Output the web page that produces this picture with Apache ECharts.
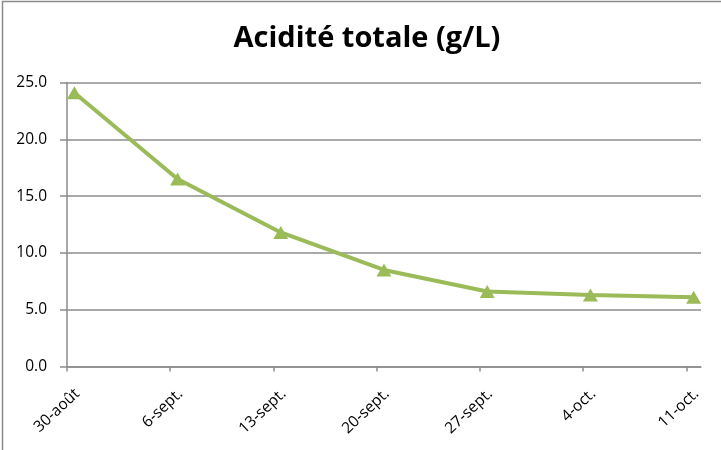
<!DOCTYPE html>
<html>
<head>
<meta charset="utf-8">
<title>Acidité totale (g/L)</title>
<script src="https://cdn.jsdelivr.net/npm/echarts@6/dist/echarts.min.js"></script>
<style>
  html, body { margin: 0; padding: 0; background: #ffffff; }
  #chart { width: 721px; height: 450px; }
</style>
</head>
<body>
<div id="chart"></div>
<script>
// Sampling dates (weekly) and total acidity in g/L
const dateLabels = ['30-août', '6-sept.', '13-sept.', '20-sept.', '27-sept.', '4-oct.', '11-oct.'];
const dayOffsets = [0, 7, 14, 21, 28, 35, 42];   // days since 30-août
const acidity = [24.1, 16.5, 11.8, 8.5, 6.6, 6.3, 6.1];
const yTicks = [0, 5, 10, 15, 20, 25];

// Date axis runs one day past the last sample; each sample sits mid-day
const dayCount = dayOffsets[dayOffsets.length - 1] + 1;
const points = dayOffsets.map((d, i) => [d + 0.5, acidity[i]]);
const labelShift = 0.7;   // rotated date labels hang just right of their tick

const gray = '#8c8c8c';
const font = '"Open Sans", Lato, sans-serif';

const chart = echarts.init(document.getElementById('chart'), null, { renderer: 'canvas' });
chart.setOption({
  animation: false,
  backgroundColor: '#ffffff',
  title: {
    text: 'Acidité totale (g/L)',
    left: 362,
    top: 19,
    textAlign: 'center',
    textStyle: { fontFamily: font, fontWeight: 'bold', fontSize: 29, color: '#000000' }
  },
  graphic: [{
    type: 'rect',
    shape: { x: 2.5, y: 1.5, width: 800, height: 600 },
    style: { fill: 'none', stroke: '#8a8a8a', lineWidth: 1.5 },
    silent: true
  }],
  grid: { left: 67, right: 20, top: 82.5, bottom: 83.5, containLabel: false },
  xAxis: {
    type: 'value',
    min: 0,
    max: dayCount,
    axisLine: { show: true, onZero: false, lineStyle: { color: gray, width: 1.5 } },
    axisTick: { show: true, length: 5, customValues: dayOffsets, lineStyle: { color: gray, width: 1.5 } },
    splitLine: { show: false },
    axisLabel: {
      customValues: dayOffsets.map(d => d + labelShift),
      rotate: 43,
      margin: 25,
      fontFamily: font,
      fontSize: 15.5,
      color: '#000000',
      formatter: v => dateLabels[dayOffsets.indexOf(Math.round(v - labelShift))] || ''
    }
  },
  yAxis: {
    type: 'value',
    min: yTicks[0],
    max: yTicks[yTicks.length - 1],
    interval: 5,
    axisLine: { show: true, lineStyle: { color: gray, width: 1.5 } },
    axisTick: { show: true, length: 7, lineStyle: { color: gray, width: 1.5 } },
    splitLine: { show: true, lineStyle: { color: gray, width: 1.5 } },
    axisLabel: {
      margin: 20,
      fontFamily: font,
      fontSize: 15.5,
      color: '#000000',
      formatter: v => v.toFixed(1)
    }
  },
  series: [{
    type: 'line',
    data: points,
    lineStyle: { color: '#9bbb59', width: 4 },
    itemStyle: { color: '#9bbb59' },
    symbol: 'triangle',
    symbolSize: [15, 13],
    z: 3
  }]
});
</script>
</body>
</html>
